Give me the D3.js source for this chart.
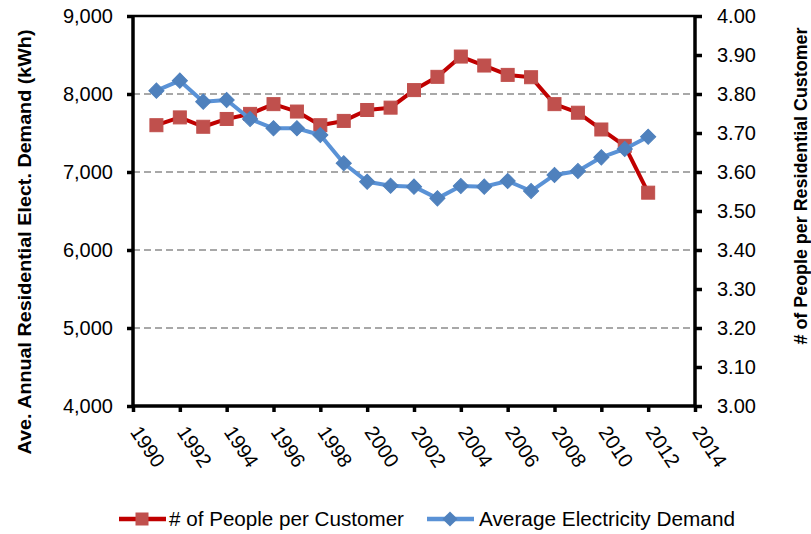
<!DOCTYPE html>
<html>
<head>
<meta charset="utf-8">
<script src="https://cdn.jsdelivr.net/npm/d3@7"></script>
<style>
  body { margin: 0; background: #fff; }
  text { font-family: "Liberation Sans", Arial, sans-serif; }
</style>
</head>
<body>
<div id="chart"></div>
<script>
// data
var years = [1991, 1992, 1993, 1994, 1995, 1996, 1997, 1998, 1999, 2000, 2001,
             2002, 2003, 2004, 2005, 2006, 2007, 2008, 2009, 2010, 2011, 2012];
var demand = [8043, 8171, 7902, 7923, 7679, 7560, 7560, 7474, 7112, 6876, 6824,
              6812, 6662, 6821, 6812, 6885, 6756, 6962, 7013, 7188, 7295, 7453];
var people = [3.720, 3.740, 3.716, 3.736, 3.749, 3.774, 3.755, 3.720, 3.731, 3.759, 3.765,
              3.810, 3.844, 3.896, 3.873, 3.849, 3.843, 3.774, 3.752, 3.709, 3.667, 3.547];
var xTicks = [1990, 1992, 1994, 1996, 1998, 2000, 2002, 2004, 2006, 2008, 2010, 2012, 2014];
var leftTicks = [4000, 5000, 6000, 7000, 8000, 9000];
var rightTicks = [3.0, 3.1, 3.2, 3.3, 3.4, 3.5, 3.6, 3.7, 3.8, 3.9, 4.0];
var gridVals = [5000, 6000, 7000, 8000];

var svgWidth = 811;
var svgHeight = 534;

var chartMargin = { top: 16, right: 116, bottom: 128, left: 133 };
var chartWidth = svgWidth - chartMargin.left - chartMargin.right;
var chartHeight = svgHeight - chartMargin.top - chartMargin.bottom;

var svg = d3.select("#chart")
  .append("svg")
  .attr("width", svgWidth)
  .attr("height", svgHeight);

var chartGroup = svg.append("g")
  .attr("transform", `translate(${chartMargin.left}, ${chartMargin.top})`);

var xScale = d3.scaleLinear().domain([1990, 2014]).range([0, chartWidth]);
var yLeft = d3.scaleLinear().domain([4000, 9000]).range([chartHeight, 0]);
var yRight = d3.scaleLinear().domain([3.0, 4.0]).range([chartHeight, 0]);

// dashed gridlines
chartGroup.selectAll(".grid")
  .data(gridVals)
  .enter()
  .append("line")
  .attr("x1", 0)
  .attr("x2", chartWidth)
  .attr("y1", d => yLeft(d))
  .attr("y2", d => yLeft(d))
  .attr("stroke", "#8c8c8c")
  .attr("stroke-width", 1.5)
  .attr("stroke-dasharray", "7,4");

// top border
chartGroup.append("line")
  .attr("x1", 0).attr("x2", chartWidth)
  .attr("y1", 0).attr("y2", 0)
  .attr("stroke", "#000")
  .attr("stroke-width", 2.5);

var leftAxis = d3.axisLeft(yLeft)
  .tickValues(leftTicks)
  .tickSize(6)
  .tickPadding(14)
  .tickFormat(d3.format(","));

var rightAxis = d3.axisRight(yRight)
  .tickValues(rightTicks)
  .tickSize(7)
  .tickPadding(15)
  .tickFormat(d3.format(".2f"));

var bottomAxis = d3.axisBottom(xScale)
  .tickValues(xTicks)
  .tickSize(6)
  .tickFormat(d3.format("d"));

var gLeft = chartGroup.append("g").call(leftAxis);
var gRight = chartGroup.append("g")
  .attr("transform", `translate(${chartWidth}, 0)`)
  .call(rightAxis);
var gBottom = chartGroup.append("g")
  .attr("transform", `translate(0, ${chartHeight})`)
  .call(bottomAxis);

[gLeft, gRight, gBottom].forEach(function(g) {
  g.select(".domain").attr("stroke", "#000").attr("stroke-width", 3.5);
  g.selectAll(".tick line").attr("stroke", "#000").attr("stroke-width", 3.5);
  g.selectAll("text").attr("font-size", 20).attr("fill", "#000")
    .style("font-family", "'Liberation Sans', Arial, sans-serif");
});
gLeft.select(".domain").attr("d", `M0,0V${chartHeight}`);
gRight.select(".domain").attr("d", `M0,0V${chartHeight}`);
gBottom.select(".domain").attr("d", `M0,0H${chartWidth}`);

gBottom.selectAll("text")
  .attr("text-anchor", "start")
  .attr("dy", null)
  .attr("y", 0)
  .attr("transform", "translate(-4, 26) rotate(56)");

// red series: people per customer
var redLine = d3.line()
  .x((d, i) => xScale(years[i]))
  .y(d => yRight(d));

chartGroup.append("path")
  .datum(people)
  .attr("d", redLine)
  .attr("fill", "none")
  .attr("stroke", "#c00000")
  .attr("stroke-width", 4)
  .attr("stroke-linejoin", "round");

chartGroup.selectAll(".sq")
  .data(people)
  .enter()
  .append("rect")
  .attr("x", (d, i) => xScale(years[i]) - 6.5)
  .attr("y", d => yRight(d) - 6.5)
  .attr("width", 13)
  .attr("height", 13)
  .attr("fill", "#c0504d")
  .attr("stroke", "#c0504d");

// blue series: average demand
var blueLine = d3.line()
  .x((d, i) => xScale(years[i]))
  .y(d => yLeft(d));

chartGroup.append("path")
  .datum(demand)
  .attr("d", blueLine)
  .attr("fill", "none")
  .attr("stroke", "#5a92d6")
  .attr("stroke-width", 4)
  .attr("stroke-linejoin", "round");

var diamond = d3.symbol().type(d3.symbolSquare).size(115);
chartGroup.selectAll(".dm")
  .data(demand)
  .enter()
  .append("path")
  .attr("d", diamond)
  .attr("transform", (d, i) => `translate(${xScale(years[i])}, ${yLeft(d)}) rotate(45)`)
  .attr("fill", "#4f81bd")
  .attr("stroke", "#4f81bd");

// axis titles
svg.append("text")
  .attr("transform", "translate(31, 242) rotate(-90)")
  .attr("text-anchor", "middle")
  .attr("font-size", 18)
  .style("font-weight", "bold")
  .attr("textLength", 425)
  .attr("lengthAdjust", "spacingAndGlyphs")
  .text("Ave. Annual Residential Elect. Demand (kWh)");

svg.append("text")
  .attr("transform", "translate(807, 186) rotate(-90)")
  .attr("text-anchor", "middle")
  .attr("font-size", 18)
  .style("font-weight", "bold")
  .attr("textLength", 317)
  .attr("lengthAdjust", "spacingAndGlyphs")
  .text("# of People per Residential Customer");

// legend
var legend = svg.append("g");
legend.append("line")
  .attr("x1", 119).attr("x2", 166).attr("y1", 519).attr("y2", 519)
  .attr("stroke", "#c00000").attr("stroke-width", 4.5);
legend.append("rect")
  .attr("x", 135.5).attr("y", 512.5).attr("width", 13).attr("height", 13)
  .attr("fill", "#c0504d");
legend.append("text")
  .attr("x", 169).attr("y", 526)
  .attr("font-size", 20.5)
  .attr("textLength", 235)
  .attr("lengthAdjust", "spacingAndGlyphs")
  .text("# of People per Customer");

legend.append("line")
  .attr("x1", 427).attr("x2", 474).attr("y1", 519).attr("y2", 519)
  .attr("stroke", "#5a92d6").attr("stroke-width", 4.5);
legend.append("path")
  .attr("d", diamond)
  .attr("transform", "translate(450, 519) rotate(45)")
  .attr("fill", "#4f81bd");
legend.append("text")
  .attr("x", 479).attr("y", 526)
  .attr("font-size", 20.5)
  .attr("textLength", 256)
  .attr("lengthAdjust", "spacingAndGlyphs")
  .text("Average Electricity Demand");
</script>
</body>
</html>
